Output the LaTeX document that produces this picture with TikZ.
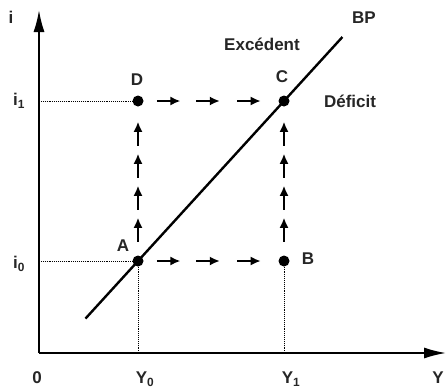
\documentclass[tikz,border=0pt]{standalone}
\usepackage{fontspec}
\setmainfont{Liberation Sans}
\usetikzlibrary{arrows.meta,calc}
\begin{document}
\begin{tikzpicture}[x=1pt,y=-1pt,
  dot/.style={circle,fill=black,inner sep=0pt,minimum size=11pt},
  lbl/.style={font=\fontsize{17}{19}\selectfont\bfseries,inner sep=0pt,text=black!85},
  axis/.style={line width=1.8pt,-{Latex[length=22pt,width=11pt]}},
  guide/.style={densely dotted,line width=0.9pt},
  flow/.style={line width=1.7pt,-{Latex[length=10pt,width=9pt]}}]
\useasboundingbox (0,0) rectangle (446,391);
\coordinate (O) at (39,353);
\coordinate (ytop) at (39,10);
\coordinate (xend) at (446,353);
\coordinate (i1) at (39,101);
\coordinate (i0) at (39,261);
\coordinate (y0) at (138,353);
\coordinate (y1) at (284,353);
\node[dot] (A) at (138,261) {};
\node[dot] (B) at (284,261) {};
\node[dot] (C) at (284,101) {};
\node[dot] (D) at (138,101) {};
% axes
\draw[axis] (O) -- (ytop);
\draw[axis] (O) -- (xend);
% guides
\draw[guide] (i1) -- (D);
\draw[guide] (i0) -- (A);
\draw[guide] (A) -- (y0);
\draw[guide] (B) -- (y1);
% BP line
\draw[line width=2.4pt] ($(A.center)!-0.36!(C.center)$) -- ($(C.center)!-0.40!(A.center)$);
% flow arrows
\foreach \s in {0.13,0.40,0.68}{
  \draw[flow] ($(A.center)!\s!(B.center)$) -- ($(A.center)!\s+0.16!(B.center)$);
  \draw[flow] ($(D.center)!\s!(C.center)$) -- ($(D.center)!\s+0.16!(C.center)$);
}
\foreach \s in {0.12,0.32,0.52,0.72}{
  \draw[flow] ($(A.center)!\s!(D.center)$) -- ($(A.center)!\s+0.15!(D.center)$);
  \draw[flow] ($(B.center)!\s!(C.center)$) -- ($(B.center)!\s+0.15!(C.center)$);
}
% labels
\node[lbl] (li) at (11,17) {i};
\node[lbl] (li1) at (19,101) {i\textsubscript{1}};
\node[lbl] (li0) at (19,264) {i\textsubscript{0}};
\node[lbl] (lO) at (37,378) {0};
\node[lbl] (lY0) at (145,379) {Y\textsubscript{0}};
\node[lbl] (lY1) at (291,379) {Y\textsubscript{1}};
\node[lbl] (lY) at (438,378) {Y};
\node[lbl] (lA) at (123,246) {A};
\node[lbl] (lB) at (308,259) {B};
\node[lbl] (lC) at (282,77) {C};
\node[lbl] (lD) at (137,80) {D};
\node[lbl] (lBP) at (364,18) {BP};
\node[lbl] (lEx) at (262,44) {Excédent};
\node[lbl] (lDe) at (350,101) {Déficit};
\end{tikzpicture}
\end{document}
